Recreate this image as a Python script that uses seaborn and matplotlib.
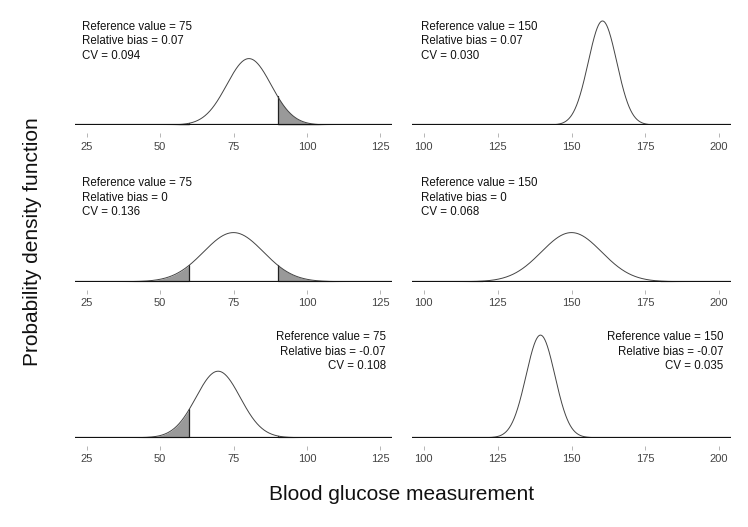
import numpy as np
import pandas as pd
import matplotlib
matplotlib.use("Agg")
import matplotlib.pyplot as plt
import seaborn as sns

# panel parameters, row by row (left column ref 75, right column ref 150)
ref_values = [75, 150, 75, 150, 75, 150]
rel_bias = [0.07, 0.07, 0.0, 0.0, -0.07, -0.07]
cv_values = [0.094, 0.030, 0.136, 0.068, 0.108, 0.035]
bias_labels = ["0.07", "0.07", "0", "0", "-0.07", "-0.07"]
cv_labels = ["0.094", "0.030", "0.136", "0.068", "0.108", "0.035"]
# acceptance limits (+/-20% of reference)
lower_limits = [60, 120]
upper_limits = [90, 180]
left_ticks = [25, 50, 75, 100, 125]
right_ticks = [100, 125, 150, 175, 200]

sns.set_theme(style="white")
plt.rcParams["font.family"] = ["Liberation Sans", "DejaVu Sans"]

W, H = 748, 527
fig = plt.figure(figsize=(W / 100, H / 100), dpi=100)

col_x = [(75, 392), (412, 731)]
row_base = [125, 281.7, 437.7]
text_top = [20.5, 177, 331]
panel_h = 110
ymax = 0.0876

for i in range(6):
    r, c = divmod(i, 2)
    x0, x1 = col_x[c]
    yb = row_base[r]
    ax = fig.add_axes([x0 / W, 1 - yb / H, (x1 - x0) / W, panel_h / H])

    ref = ref_values[i]
    mu = ref * (1 + rel_bias[i])
    sd = mu * cv_values[i]
    lo, hi = (21, 129) if c == 0 else (96, 204)
    x = np.linspace(lo, hi, 1200)
    dens = np.exp(-0.5 * ((x - mu) / sd) ** 2) / (sd * np.sqrt(2 * np.pi))
    df = pd.DataFrame({"x": x, "y": dens})

    low, up = lower_limits[c], upper_limits[c]
    for mask, edge in [(x <= low, low), (x >= up, up)]:
        if dens[mask].max() > 1e-4:
            ax.fill_between(x[mask], 0, dens[mask], color="#999999", lw=0)
            ey = np.exp(-0.5 * ((edge - mu) / sd) ** 2) / (sd * np.sqrt(2 * np.pi))
            ax.plot([edge, edge], [0, ey], color="#222222", lw=0.9)

    sns.lineplot(data=df, x="x", y="y", ax=ax, color="#444444", lw=0.7)
    ax.axhline(0, color="#111111", lw=1.6)

    ax.set_xlim(lo, hi)
    ax.set_ylim(0, ymax)
    ax.set_xticks(left_ticks if c == 0 else right_ticks)
    ax.set_yticks([])
    ax.set_xlabel("")
    ax.set_ylabel("")
    for s in ["top", "left", "right"]:
        ax.spines[s].set_visible(False)
    ax.spines["bottom"].set_position(("outward", 6))
    ax.spines["bottom"].set_visible(False)
    ax.tick_params(axis="x", bottom=True, length=3, width=0.6, color="#aaaaaa",
                   labelsize=8, labelcolor="#444444", pad=3)

    txt = f"Reference value = {ref}\nRelative bias = {bias_labels[i]}\nCV = {cv_labels[i]}"
    ty = 1 - (text_top[r] - (yb - panel_h)) / panel_h
    if r < 2:
        tx = (82 if c == 0 else 420.7) - x0
        ha = "left"
    else:
        tx = (385.7 if c == 0 else 723.3) - x0
        ha = "right"
    ax.text(tx / (x1 - x0), ty, txt, transform=ax.transAxes, ha=ha, va="top",
            fontsize=8.3, linespacing=1.3, color="#111111")

fig.text(33 / W, 1 - 242 / H, "Probability density function", rotation=90,
         ha="center", va="center", fontsize=15, color="#111111")
fig.text(402 / W, 1 - 495 / H, "Blood glucose measurement",
         ha="center", va="center", fontsize=15, color="#111111")

fig.savefig("out.png", dpi=100, facecolor="white")
